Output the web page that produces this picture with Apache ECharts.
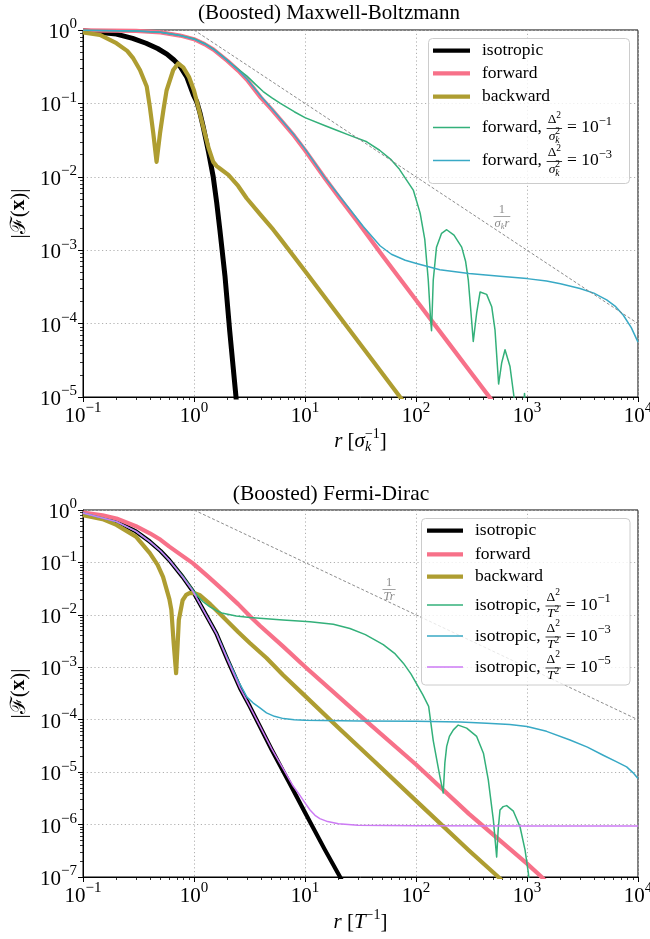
<!DOCTYPE html>
<html>
<head>
<meta charset="utf-8">
<script src="https://cdn.jsdelivr.net/npm/echarts@6/dist/echarts.min.js"></script>
<style>
  html, body { margin: 0; padding: 0; background: #fff; }
  #chart { width: 650px; height: 939px; }
</style>
</head>
<body>
<div id="chart"></div>
<script>
// ---- data: [r, |F(x)|] ----

// (Boosted) Maxwell-Boltzmann
const mbIsotropic = [[0.1,0.98],[0.2,0.88],[0.28,0.77],[0.37,0.66],[0.47,0.56],[0.57,0.47],[0.66,0.39],[0.75,0.32],[0.86,0.23],[0.99,0.13],[1.06,0.105],[1.13,0.075],[1.21,0.048],[1.35,0.022],[1.49,0.01],[1.6,0.0045],[1.71,0.0019],[1.9,0.00045],[2.1,0.000078],[2.25,0.000026],[2.39,0.00001],[2.5,0.000004]];
const mbForward = [[0.1,0.99],[0.3,0.97],[0.5,0.93],[0.75,0.84],[1,0.75],[1.25,0.64],[1.5,0.54],[2,0.38],[2.5,0.28],[3,0.21],[4,0.12],[5,0.083],[6,0.06],[8,0.036],[10,0.023],[15,0.0097],[20,0.0054],[30,0.0024],[50,0.00084],[100,0.00021],[200,0.0000525],[300,0.0000233],[470,0.0000095],[520,0.0000076]];
const mbBackward = [[0.1,0.93],[0.142,0.855],[0.2,0.66],[0.25,0.52],[0.284,0.41],[0.326,0.285],[0.375,0.17],[0.4,0.09],[0.43,0.039],[0.46,0.016],[0.494,0.039],[0.53,0.081],[0.566,0.15],[0.65,0.285],[0.72,0.35],[0.8,0.31],[0.9,0.23],[1.0,0.15],[1.1,0.085],[1.21,0.048],[1.35,0.025],[1.49,0.016],[1.6,0.014],[1.71,0.013],[2.04,0.0106],[2.5,0.0075],[2.98,0.0051],[4,0.003],[5.18,0.0019],[5.96,0.00145],[10,0.00052],[20,0.00013],[40,0.0000325],[71.8,0.00001],[80,0.0000081]];
const mbForwardD1 = [[0.1,0.99],[0.3,0.97],[0.5,0.93],[0.75,0.84],[1,0.76],[1.25,0.65],[1.5,0.55],[1.8,0.44],[2.26,0.33],[3,0.235],[3.6,0.18],[4.2,0.145],[5,0.12],[6,0.1],[8,0.077],[10,0.064],[15,0.05],[19.3,0.043],[25,0.037],[36,0.03],[47,0.023],[60,0.017],[70,0.013],[82,0.0091],[94.5,0.0066],[109,0.0032],[120,0.0014],[129,0.00039],[135.5,0.00011],[138,0.00008],[143,0.00039],[153,0.0011],[170,0.0017],[189,0.0019],[220,0.0016],[258,0.0011],[280,0.0007],[296,0.00039],[317,0.00011],[328,0.000057],[352,0.00014],[378,0.00027],[433,0.00025],[481,0.00017],[515,0.000082],[555,0.000015],[591,0.000029],[634,0.000044],[703,0.000026],[764,0.00001],[850,0.000001],[950,0.0000112],[1050,0.000001]];
const mbForwardD3 = [[0.1,0.99],[0.3,0.97],[0.5,0.93],[0.75,0.84],[1,0.75],[1.25,0.645],[1.5,0.545],[2,0.385],[2.5,0.285],[3,0.215],[4,0.125],[5,0.085],[6,0.062],[8,0.037],[10,0.024],[15,0.0099],[20,0.0057],[25,0.0037],[33.5,0.0021],[47.4,0.00115],[60,0.00088],[80,0.00073],[101,0.00066],[164,0.00054],[300,0.00048],[571,0.00044],[1000,0.00041],[1500,0.00038],[2000,0.00035],[3000,0.0003],[4000,0.00026],[5220,0.00021],[6300,0.00017],[7380,0.00013],[8700,0.000088],[10000,0.000056]];
const mbGuide = [[1,1],[10000,0.0001]];

// (Boosted) Fermi-Dirac
const fdIsotropic = [[0.1,0.88],[0.2,0.6],[0.3,0.39],[0.4,0.25],[0.5,0.165],[0.6,0.11],[0.79,0.053],[0.98,0.028],[1.3,0.0095],[1.59,0.0044],[2,0.0014],[2.6,0.0004],[3.18,0.00018],[5,0.000027],[7.8,0.0000046],[10,0.0000017],[15,0.00000034],[20.7,0.0000001],[25,0.000000047]];
const fdForward = [[0.1,0.89],[0.15,0.79],[0.2,0.69],[0.3,0.49],[0.4,0.36],[0.5,0.27],[0.6,0.2],[0.78,0.135],[0.98,0.096],[1.35,0.053],[1.82,0.03],[2.5,0.016],[3.18,0.0095],[3.93,0.0062],[6.34,0.0025],[10,0.00102],[30,0.000129],[100,0.000014],[300,0.0000016],[1000,0.00000018],[1355,0.0000001],[1600,0.00000007]];
const fdBackward = [[0.1,0.8],[0.15,0.67],[0.2,0.52],[0.3,0.31],[0.4,0.15],[0.47,0.09],[0.526,0.053],[0.6,0.02],[0.625,0.0124],[0.656,0.0029],[0.69,0.00077],[0.713,0.0029],[0.73,0.008],[0.79,0.019],[0.85,0.024],[0.91,0.026],[1.0,0.026],[1.12,0.024],[1.4,0.016],[1.82,0.0092],[2.5,0.0047],[3.18,0.0029],[4.5,0.0015],[6.34,0.00071],[10,0.000285],[20,0.00007],[43,0.0000155],[109,0.0000024],[300,0.00000032],[552,0.0000001],[700,0.000000062]];
const fdIsotropicD1 = [[0.1,0.88],[0.2,0.6],[0.3,0.39],[0.4,0.25],[0.5,0.165],[0.6,0.11],[0.79,0.055],[0.98,0.03],[1.1,0.022],[1.2,0.018],[1.38,0.0143],[1.6,0.012],[1.82,0.0107],[2.4,0.0095],[3.18,0.0089],[6.34,0.008],[11.1,0.0074],[18,0.0066],[25.4,0.0055],[35,0.0042],[50.7,0.0027],[65,0.0018],[76.9,0.0012],[90,0.00075],[101,0.00049],[115,0.0003],[130,0.00018],[143,0.00004],[164,0.0000083],[176,0.000004],[182,0.000015],[189,0.000031],[200,0.000048],[217,0.000064],[240,0.000079],[286,0.000069],[352,0.000048],[405,0.000023],[448,0.0000071],[498,0.0000012],[533,0.00000024],[550,0.0000008],[571,0.0000019],[610,0.0000022],[656,0.0000023],[754,0.0000018],[865,0.00000091],[960,0.00000033],[1028,0.00000012],[1080,0.00000004]];
const fdIsotropicD3 = [[0.1,0.88],[0.2,0.6],[0.3,0.39],[0.4,0.25],[0.5,0.165],[0.6,0.11],[0.79,0.053],[0.98,0.028],[1.3,0.0096],[1.59,0.0045],[2,0.0015],[2.5,0.00055],[3,0.00027],[3.4,0.00021],[3.9,0.00017],[4.5,0.000135],[5.3,0.000116],[6.4,0.000105],[8,0.0001],[10,0.000098],[31,0.000095],[100,0.000093],[250,0.00009],[434,0.000086],[700,0.000081],[1000,0.000074],[1500,0.00006],[2440,0.000041],[3500,0.00003],[4860,0.000021],[6300,0.000016],[7900,0.0000126],[9000,0.0000098],[10000,0.0000076]];
const fdIsotropicD5 = [[0.1,0.88],[0.2,0.6],[0.3,0.39],[0.4,0.25],[0.5,0.165],[0.6,0.11],[0.79,0.053],[0.98,0.028],[1.3,0.0095],[1.59,0.0044],[2,0.0014],[2.6,0.0004],[3.18,0.00018],[5,0.000028],[7.8,0.0000055],[9,0.0000036],[10,0.0000026],[11.1,0.0000019],[12.3,0.0000015],[13.6,0.0000013],[16,0.00000114],[20,0.00000104],[30,0.00000097],[100,0.00000095],[1000,0.00000094],[10000,0.00000094]];
const fdGuide = [[1,1],[10000,0.0001]];

// axis ranges (decade exponents) and text
const xDecades = [-1, 4];
const mbYDecades = [-5, 0];
const fdYDecades = [-7, 0];
const titles = ['(Boosted) Maxwell-Boltzmann', '(Boosted) Fermi-Dirac'];
const mbLabels = ['isotropic', 'forward', 'backward', 'forward', 'forward'];
const mbExps = ['', '', '', '−1', '−3'];
const fdLabels = ['isotropic', 'forward', 'backward', 'isotropic', 'isotropic', 'isotropic'];
const fdExps = ['', '', '', '−1', '−3', '−5'];

// ---- styling ----
const C = { black: '#000000', pink: '#f77189', olive: '#ae9d31', green: '#33b07a', blue: '#38a9c5', purple: '#cc7af4', guide: '#7f7f7f' };
const FONT = '"Liberation Serif", "DejaVu Serif", serif';
const THICK = 4.2, THIN = 1.5;

const measureCtx = document.createElement('canvas').getContext('2d');
function textWidth(t, size, italic, bold) {
  measureCtx.font = (italic ? 'italic ' : '') + (bold ? 'bold ' : '') + size + 'px ' + FONT;
  return measureCtx.measureText(t).width;
}
function T(t, size, opt) { return Object.assign({ t: t, size: size }, opt || {}); }
function tokWidth(k) {
  if (k.stack) return Math.max.apply(null, k.stack.map(tokWidth));
  if (k.num) return Math.max(seqWidth(k.num), seqWidth(k.den)) + 3;
  return textWidth(k.t, k.size, k.italic, k.bold);
}
function seqWidth(seq) { return seq.reduce((a, k) => a + tokWidth(k), 0); }
function placeSeq(seq, x, y, color, out) {
  seq.forEach(k => {
    const w = tokWidth(k);
    if (k.stack) {
      k.stack.forEach(s => placeSeq([s], x, y, color, out));
    } else if (k.num) {
      placeSeq(k.num, x + (w - seqWidth(k.num)) / 2, y + k.numDy, color, out);
      placeSeq(k.den, x + (w - seqWidth(k.den)) / 2, y + k.denDy, color, out);
      out.push({ type: 'line', z: 10, shape: { x1: x + 0.5, y1: y + k.barDy, x2: x + w - 0.5, y2: y + k.barDy }, style: { stroke: color, lineWidth: 0.8 } });
    } else {
      out.push({ type: 'text', z: 10, x: x, y: y + (k.dy || 0), style: {
        text: k.t, fill: color, fontSize: k.size, fontFamily: FONT,
        fontStyle: k.italic ? 'italic' : 'normal', fontWeight: k.bold ? 'bold' : 'normal',
        align: 'left', verticalAlign: 'middle' } });
    }
    x += w;
  });
  return x;
}
function centered(seq, cx, y, color, out) { placeSeq(seq, cx - seqWidth(seq) / 2, y, color, out); }

function fracTokens(prefix, denVar, denSub, exp) {
  const den = [T(denVar, 13.5, { italic: true }),
    denSub ? { stack: [T('2', 9.5, { dy: -4.5 }), T(denSub, 9.5, { dy: 4, italic: true })] } : T('2', 9.5, { dy: -4.5 })];
  return [T(prefix + ', ', 17.5),
    { num: [T('Δ', 13.5), T('2', 9.5, { dy: -4.5 })], den: den, numDy: -8, denDy: 8.5, barDy: 1 },
    T(' = 10', 17.5), T(exp, 12.5, { dy: -6 })];
}

function legend(box, labels, exps, colors, widths, rowsY, denVar, denSub, out) {
  out.push({ type: 'rect', z: 9, shape: { x: box.x, y: box.y, width: box.w, height: box.h, r: 4 },
    style: { fill: 'rgba(255,255,255,0.8)', stroke: '#cccccc', lineWidth: 1 } });
  labels.forEach((lab, i) => {
    const y = rowsY[i];
    out.push({ type: 'line', z: 10, shape: { x1: box.hx1, y1: y, x2: box.hx2, y2: y },
      style: { stroke: colors[i], lineWidth: widths[i] } });
    const toks = exps[i] ? fracTokens(lab, denVar, denSub, exps[i]) : [T(lab, 17.5)];
    placeSeq(toks, box.tx, y, '#000', out);
  });
}

function minorValues(d) {
  const v = [];
  for (let e = d[0]; e < d[1]; e++) for (let k = 2; k <= 9; k++) v.push(k * Math.pow(10, e));
  return v;
}

const tickRich = {
  b: { fontSize: 21, fontFamily: FONT, lineHeight: 26, verticalAlign: 'bottom', color: '#000' },
  s: { fontSize: 15, fontFamily: FONT, lineHeight: 15, verticalAlign: 'top', color: '#000' }
};
function powLabel(v) {
  const e = Math.round(Math.log10(v));
  return '{b|10}{s|' + (e < 0 ? '−' + (-e) : String(e)) + '}';
}

function majorAxis(grid, d, isX) {
  return {
    type: 'log', logBase: 10, gridIndex: grid,
    min: Math.pow(10, d[0]), max: Math.pow(10, d[1]), splitNumber: d[1] - d[0],
    position: isX ? 'bottom' : 'left',
    axisLine: { show: true, lineStyle: { color: '#000', width: 1 } },
    axisTick: { show: true, inside: false, length: 5, lineStyle: { color: '#000', width: 1 } },
    axisLabel: { show: true, margin: isX ? 4 : 6, formatter: powLabel, rich: tickRich, showMinLabel: true, showMaxLabel: true, hideOverlap: false },
    splitLine: { show: true, lineStyle: { color: '#b0b0b0', width: 1, type: [1.2, 2.6] } },
    minorTick: { show: false }
  };
}
function minorAxis(grid, d, isX) {
  return {
    type: 'log', logBase: 10, gridIndex: grid,
    min: Math.pow(10, d[0]), max: Math.pow(10, d[1]),
    position: isX ? 'bottom' : 'left',
    axisLine: { show: false },
    axisTick: { show: true, length: 3, customValues: minorValues(d), lineStyle: { color: '#000', width: 0.8 } },
    axisLabel: { show: false },
    splitLine: { show: false }
  };
}

function line(data, color, width, xi, yi, dashed) {
  return {
    type: 'line', data: data, xAxisIndex: xi, yAxisIndex: yi,
    showSymbol: false, symbol: 'none', smooth: false, clip: true,
    lineStyle: { color: color, width: width, type: dashed ? [3, 2] : 'solid', join: 'round', cap: 'butt' },
    emphasis: { disabled: true }, silent: true
  };
}

// ---- text and legends drawn as graphic elements ----
const g = [];
centered([T(titles[0], 21)], 329, 13, '#000', g);
centered([T(titles[1], 21.5)], 331, 494, '#000', g);

centered([T('r', 21, { italic: true }), T(' [', 21), T('σ', 21, { italic: true }),
  { stack: [T('−1', 14, { dy: -7 }), T('k', 14, { dy: 6, italic: true })] }, T(']', 21)], 360.5, 441, '#000', g);
centered([T('r', 21, { italic: true }), T(' [', 21), T('T', 21, { italic: true }),
  T('−1', 14, { dy: -7 }), T(']', 21)], 360.5, 922, '#000', g);

[213.5, 693.5].forEach(cy => {
  const kids = [];
  const seq = [T('|ℱ(', 21), T('x', 21, { bold: true }), T(')|', 21)];
  placeSeq(seq, -seqWidth(seq) / 2, 0, '#000', kids);
  g.push({ type: 'group', x: 19, y: cy, rotation: Math.PI / 2, children: kids });
});

// 1/(sigma_k r) and 1/(T r) guide labels
placeSeq([{ num: [T('1', 12.5)], den: [T('σ', 12.5, { italic: true }), T('k', 8.5, { italic: true, dy: 3 }), T('r', 12.5, { italic: true })], numDy: -6.5, denDy: 7, barDy: 0 }], 493, 216.5, '#8c8c8c', g);
placeSeq([{ num: [T('1', 12.5)], den: [T('Tr', 12.5, { italic: true })], numDy: -6.5, denDy: 7, barDy: 0 }], 382, 589.5, '#8c8c8c', g);

legend({ x: 428.5, y: 38.5, w: 201, h: 145, hx1: 433, hx2: 470, tx: 482 },
  mbLabels, mbExps, [C.black, C.pink, C.olive, C.green, C.blue], [THICK, THICK, THICK, THIN, THIN],
  [50.7, 73.3, 96.7, 127.5, 160.5], 'σ', 'k', g);
legend({ x: 421.5, y: 518.5, w: 208.5, h: 166.5, hx1: 427, hx2: 463, tx: 475 },
  fdLabels, fdExps, [C.black, C.pink, C.olive, C.green, C.blue, C.purple], [THICK, THICK, THICK, THIN, THIN, THIN],
  [530.7, 554.3, 576.7, 605, 636, 667], 'T', null, g);

const chart = echarts.init(document.getElementById('chart'), null, { renderer: 'canvas' });
chart.setOption({
  animation: false,
  backgroundColor: '#fff',
  grid: [
    { left: 83, top: 30, width: 555, height: 367, show: true, borderColor: '#000', borderWidth: 1, backgroundColor: 'transparent', containLabel: false, outerBoundsMode: 'none' },
    { left: 83, top: 510, width: 555, height: 367, show: true, borderColor: '#000', borderWidth: 1, backgroundColor: 'transparent', containLabel: false, outerBoundsMode: 'none' }
  ],
  xAxis: [majorAxis(0, xDecades, true), minorAxis(0, xDecades, true), majorAxis(1, xDecades, true), minorAxis(1, xDecades, true)],
  yAxis: [majorAxis(0, mbYDecades, false), minorAxis(0, mbYDecades, false), majorAxis(1, fdYDecades, false), minorAxis(1, fdYDecades, false)],
  series: [
    line(mbIsotropic, C.black, 5, 0, 0),
    line(mbForward, C.pink, THICK, 0, 0),
    line(mbBackward, C.olive, THICK, 0, 0),
    line(mbForwardD1, C.green, THIN, 0, 0),
    line(mbForwardD3, C.blue, THIN, 0, 0),
    line(mbGuide, C.guide, 0.9, 0, 0, true),
    line(fdIsotropic, C.black, THICK, 2, 2),
    line(fdForward, C.pink, THICK, 2, 2),
    line(fdBackward, C.olive, THICK, 2, 2),
    line(fdIsotropicD1, C.green, THIN, 2, 2),
    line(fdIsotropicD3, C.blue, THIN, 2, 2),
    line(fdIsotropicD5, C.purple, THIN, 2, 2),
    line(fdGuide, C.guide, 0.9, 2, 2, true)
  ],
  graphic: { elements: g }
});
</script>
</body>
</html>
